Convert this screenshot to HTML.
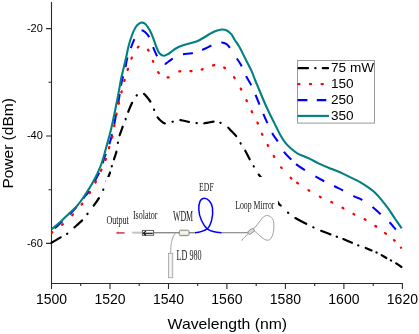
<!DOCTYPE html>
<html><head><meta charset="utf-8"><style>
html,body{margin:0;padding:0;background:#fff;}
svg{display:block;will-change:transform;}
text{font-family:"Liberation Sans", sans-serif;fill:#000;}
.serif text, text.serif{font-family:"Liberation Serif", serif;fill:#202020;}
</style></head><body>
<svg width="419" height="334" viewBox="0 0 419 334">
<path d="M51.5,2 V283.5 H402.9" fill="none" stroke="#2a2a2a" stroke-width="1.1"/>
<path d="M46,28.6 H51.5 M46,136.0 H51.5 M46,243.4 H51.5 M48.5,82.3 H51.5 M48.5,189.7 H51.5 M51.5,283.5 V289 M110.0,283.5 V289 M168.5,283.5 V289 M226.9,283.5 V289 M285.4,283.5 V289 M343.9,283.5 V289 M402.4,283.5 V289 M80.7,283.5 V286 M139.2,283.5 V286 M197.7,283.5 V286 M256.2,283.5 V286 M314.7,283.5 V286 M373.2,283.5 V286" stroke="#2a2a2a" stroke-width="1.1"/>
<text x="42.8" y="31.9" text-anchor="end" font-size="11">-20</text>
<text x="42.8" y="139.3" text-anchor="end" font-size="11">-40</text>
<text x="42.8" y="246.7" text-anchor="end" font-size="11">-60</text>
<text x="51.5" y="304" text-anchor="middle" font-size="14">1500</text>
<text x="110.0" y="304" text-anchor="middle" font-size="14">1520</text>
<text x="168.5" y="304" text-anchor="middle" font-size="14">1540</text>
<text x="226.9" y="304" text-anchor="middle" font-size="14">1560</text>
<text x="285.4" y="304" text-anchor="middle" font-size="14">1580</text>
<text x="343.9" y="304" text-anchor="middle" font-size="14">1600</text>
<text x="402.4" y="304" text-anchor="middle" font-size="14">1620</text>
<text x="167.6" y="328.5" font-size="15" textLength="119.5" lengthAdjust="spacingAndGlyphs">Wavelength (nm)</text>
<text transform="translate(12.7,143.4) rotate(-90)" text-anchor="middle" font-size="15.5">Power (dBm)</text>
<path id="ck" d="M51.6,242.7 C53.2,241.7 58.9,238.4 61.5,236.9 C64.1,235.4 65.2,235.2 67.3,233.7 C69.3,232.2 71.2,230.2 73.8,227.9 C76.4,225.6 80.6,222.0 82.9,219.7 C85.2,217.4 85.8,216.1 87.5,213.9 C89.2,211.7 91.1,209.2 93.1,206.5 C95.1,203.8 97.6,200.3 99.3,197.5 C101.0,194.7 101.4,193.9 103.2,189.7 C105.0,185.5 108.6,176.4 110.0,172.5 C111.4,168.6 111.2,168.2 111.8,166.2 C112.4,164.1 112.9,162.8 113.7,160.2 C114.5,157.6 116.0,153.6 116.7,150.7 C117.4,147.8 117.5,145.2 117.9,142.8 C118.4,140.4 118.6,139.0 119.4,136.2 C120.2,133.4 122.0,128.7 123.0,125.8 C124.0,122.9 124.9,121.2 125.7,119.0 C126.5,116.8 126.7,115.6 127.8,112.8 C128.9,110.0 131.0,104.9 132.5,102.0 C134.0,99.1 135.3,97.0 136.6,95.5 C137.9,94.0 139.4,93.5 140.5,93.2 C141.6,92.9 142.2,92.9 143.2,93.4 C144.2,94.0 145.2,95.0 146.5,96.5 C147.8,98.0 149.7,100.3 150.9,102.5 C152.2,104.7 153.0,107.2 154.0,109.5 C155.0,111.8 155.8,114.4 156.9,116.2 C158.0,118.0 159.0,119.3 160.5,120.5 C162.0,121.7 163.7,123.4 165.7,123.6 C167.7,123.8 170.2,122.4 172.4,121.8 C174.6,121.2 176.2,120.0 179.1,120.0 C182.0,120.0 186.7,121.5 189.6,122.0 C192.5,122.5 194.1,122.8 196.3,123.0 C198.5,123.2 201.0,123.5 202.9,123.4 C204.8,123.3 206.1,122.9 208.0,122.6 C209.9,122.3 212.4,121.6 214.4,121.6 C216.4,121.6 218.1,121.8 220.2,122.7 C222.3,123.6 225.2,125.3 227.2,126.8 C229.1,128.3 230.3,129.9 231.9,131.5 C233.5,133.1 235.2,134.7 236.6,136.6 C238.0,138.5 239.1,140.8 240.4,143.0 C241.7,145.2 243.0,146.8 244.6,149.6 C246.2,152.4 248.5,157.1 250.0,159.8 C251.5,162.6 252.3,163.8 253.6,166.1 C254.9,168.3 256.6,171.4 257.8,173.3 C259.0,175.2 259.0,174.7 261.0,177.5 C263.0,180.3 267.1,185.7 270.0,190.0 C272.9,194.3 276.5,200.4 278.4,203.1 C280.3,205.8 279.9,204.6 281.5,206.2 C283.1,207.8 285.7,210.7 287.8,212.5 C289.9,214.3 291.0,215.4 294.1,217.3 C297.2,219.2 303.6,222.3 306.7,224.0 C309.8,225.7 310.8,226.1 313.0,227.2 C315.2,228.2 317.1,229.1 319.9,230.3 C322.7,231.5 327.3,233.1 330.0,234.2 C332.7,235.2 334.3,235.9 336.3,236.6 C338.3,237.3 339.5,237.5 342.2,238.6 C344.9,239.7 349.8,241.8 352.4,242.9 C355.0,244.0 355.6,244.4 357.7,245.2 C359.8,246.0 362.3,246.6 364.9,247.6 C367.4,248.6 370.5,249.9 373.0,251.0 C375.5,252.1 377.7,252.9 380.1,254.2 C382.5,255.5 385.5,257.6 387.3,258.6 C389.1,259.6 389.6,259.7 390.9,260.4 C392.2,261.1 393.5,261.7 395.3,262.8 C397.1,263.9 400.6,266.4 401.6,267.1" fill="none" stroke="#000" stroke-width="2.2" stroke-linecap="round" stroke-dasharray="0.00 1.10 9.30 7.45 0.30 9.65 10.10 8.45 0.30 10.15 9.10 9.45 0.30 8.95 9.30 6.45 0.30 7.15 7.80 8.95 0.30 7.75 8.80 8.15 0.30 7.75 9.50 8.75 0.30 8.15 9.80 8.75 0.30 8.15 9.60 7.95 0.30 7.95 8.50 7.75 0.30 7.45 9.50 6.95 0.30 8.95 11.60 8.35 0.30 8.75 9.30 8.15 0.30 9.25 9.10 7.95 0.30 9.95 11.20 9.95 0.30 8.95 12.10 7.95 0.30 8.45 9.80 6.65 0.30 6.95 9.10 6.95 0.30 7.65 6.30 5.25 0.30 5.65 5.30 5.25 0.30 5.95 6.10 52.60"/>
<path id="cb" d="M52.5,230.5 C53.8,229.3 57.4,225.9 60.0,223.5 C62.6,221.1 65.3,218.7 68.0,216.0 C70.7,213.3 73.3,210.6 76.0,207.5 C78.7,204.4 81.8,200.3 84.0,197.5 C86.2,194.7 86.8,194.8 89.5,190.4 C92.2,186.0 97.5,176.5 100.0,171.0 C102.5,165.5 102.5,163.3 104.5,157.5 C106.5,151.7 109.5,144.8 111.7,135.9 C114.0,127.0 116.4,112.5 118.0,104.0 C119.6,95.5 120.4,89.1 121.2,84.6 C122.0,80.1 122.2,80.2 122.9,77.2 C123.6,74.2 124.9,69.7 125.6,66.5 C126.3,63.3 126.4,61.3 127.3,58.2 C128.2,55.1 129.6,51.3 130.8,48.1 C132.0,44.9 133.3,41.7 134.4,39.2 C135.5,36.7 136.4,34.5 137.5,33.0 C138.6,31.5 139.8,30.5 141.0,30.3 C142.2,30.1 143.7,30.9 145.0,32.0 C146.3,33.1 147.7,34.5 149.1,37.1 C150.5,39.7 152.0,44.5 153.3,47.6 C154.6,50.8 155.8,53.7 157.0,56.0 C158.2,58.3 159.2,60.2 160.5,61.5 C161.8,62.8 163.2,63.9 164.5,64.0 C165.8,64.1 166.6,62.9 168.0,62.0 C169.4,61.1 171.0,59.7 172.7,58.7 C174.4,57.7 176.2,56.8 178.0,56.0 C179.8,55.2 180.8,54.7 183.2,54.2 C185.6,53.7 189.0,53.9 192.2,53.2 C195.4,52.5 199.4,51.0 202.5,49.8 C205.6,48.6 208.7,46.8 210.9,45.8 C213.2,44.8 214.4,44.5 216.0,44.0 C217.6,43.5 219.1,42.9 220.4,42.7 C221.7,42.5 222.7,42.5 224.0,43.0 C225.3,43.5 226.3,43.3 228.4,45.9 C230.5,48.5 234.7,55.4 236.8,58.5 C238.9,61.6 239.3,61.8 240.9,64.8 C242.5,67.8 244.6,73.2 246.2,76.3 C247.8,79.4 248.8,80.5 250.4,83.6 C252.0,86.7 253.5,90.0 255.6,95.0 C257.7,100.0 260.5,107.3 263.2,113.6 C265.9,119.9 269.6,128.1 272.0,132.7 C274.4,137.3 275.5,137.9 277.5,141.1 C279.5,144.3 281.8,148.9 284.0,151.9 C286.2,154.9 288.1,156.5 290.7,159.0 C293.3,161.5 294.8,163.5 299.5,166.7 C304.2,169.9 312.4,174.8 318.9,178.4 C325.4,182.0 332.6,185.2 338.4,188.1 C344.2,191.0 349.7,194.1 353.6,196.1 C357.5,198.1 359.0,198.1 362.0,199.8 C365.0,201.5 368.4,203.8 371.4,206.1 C374.4,208.4 376.8,210.8 379.8,213.5 C382.8,216.2 386.7,219.4 389.3,222.0 C391.9,224.6 393.6,227.0 395.6,229.2 C397.6,231.4 400.5,234.0 401.5,235.0" fill="none" stroke="#0000ff" stroke-width="2.05" stroke-dasharray="0.00 3.38 10.20 10.20 10.20 10.20 10.20 10.20 10.20 10.20 10.20 10.20 10.20 10.20 10.20 10.20 10.20 8.40 10.00 9.10 10.00 9.90 9.60 12.00 10.60 10.60 10.00 11.20 9.80 11.10 10.00 9.70 10.20 10.40 10.60 12.60 9.60 10.40 10.60 10.40 10.60 10.00 10.20 10.80 10.20 12.00 10.80 6.60 10.80 12.00 10.20 10.80 10.00 11.70 10.00 12.30 11.00 11.80 9.80 58.20"/>
<path id="cr" d="M52.0,232.5 C53.7,231.2 58.8,227.6 62.3,224.6 C65.8,221.6 69.4,218.1 72.7,214.7 C76.0,211.3 79.3,207.6 82.1,204.0 C84.9,200.4 87.2,196.8 89.5,193.1 C91.8,189.4 93.8,185.6 95.8,181.8 C97.8,178.0 99.5,173.9 101.2,170.2 C102.9,166.4 104.4,163.0 105.7,159.3 C107.0,155.6 107.9,151.8 109.0,148.1 C110.1,144.3 111.3,140.6 112.2,136.8 C113.1,133.0 113.7,128.9 114.4,125.1 C115.1,121.3 115.8,117.7 116.5,114.0 C117.2,110.3 118.1,106.4 118.9,102.7 C119.7,99.0 120.6,95.7 121.5,92.0 C122.4,88.3 123.5,84.3 124.5,80.5 C125.5,76.7 126.6,73.1 127.8,69.4 C129.0,65.7 130.5,61.1 131.6,58.2 C132.7,55.3 133.4,53.9 134.5,52.0 C135.6,50.1 136.8,48.2 138.1,47.1 C139.3,46.0 140.8,45.3 142.0,45.2 C143.2,45.1 143.9,45.7 145.0,46.5 C146.1,47.3 147.0,47.8 148.3,50.2 C149.6,52.7 151.3,57.5 153.0,61.2 C154.7,64.9 156.5,69.7 158.2,72.2 C159.9,74.8 161.3,75.6 163.0,76.5 C164.7,77.4 166.5,77.7 168.2,77.4 C169.9,77.2 171.1,76.0 173.0,75.0 C174.9,74.0 176.5,72.1 179.4,71.4 C182.3,70.8 187.0,71.4 190.7,71.1 C194.3,70.8 197.6,70.6 201.3,69.6 C205.1,68.6 210.2,66.1 213.2,65.3 C216.1,64.5 217.1,64.6 219.0,65.0 C220.9,65.4 222.1,65.8 224.6,67.9 C227.1,70.0 231.5,73.9 234.2,77.4 C236.9,80.9 238.0,83.3 240.9,88.9 C243.8,94.5 248.9,105.6 251.6,111.1 C254.3,116.6 255.5,118.2 257.2,122.0 C258.9,125.8 260.2,130.0 262.0,133.9 C263.8,137.8 265.9,141.7 267.9,145.4 C269.9,149.1 271.7,152.5 273.9,156.2 C276.1,159.9 278.2,163.7 281.1,167.4 C284.0,171.1 288.4,175.6 291.1,178.2 C293.8,180.8 294.5,181.0 297.4,183.0 C300.3,185.0 304.6,187.8 308.4,190.1 C312.1,192.4 316.1,194.8 319.9,196.8 C323.7,198.8 327.4,200.2 331.2,202.0 C335.0,203.8 338.8,205.8 342.5,207.8 C346.2,209.8 349.9,212.2 353.6,214.1 C357.3,216.0 361.1,217.3 364.7,219.3 C368.3,221.3 372.0,223.7 375.4,226.0 C378.8,228.3 382.0,230.7 385.1,233.1 C388.2,235.5 391.5,237.8 394.1,240.2 C396.8,242.6 399.9,246.4 401.0,247.7" fill="none" stroke="#ff0000" stroke-width="2.3" stroke-linecap="round" stroke-dasharray="0.50 12.20 1.00 13.00 1.00 13.20 1.00 12.80 1.00 11.20 1.00 12.00 1.00 10.80 1.00 11.20 1.00 10.20 1.00 10.40 1.00 10.80 1.00 10.20 1.00 10.60 1.00 10.80 1.00 10.60 1.00 10.80 1.00 12.00 1.00 11.80 1.00 11.00 1.00 11.40 1.00 10.40 1.00 12.20 1.00 10.20 1.00 10.40 1.00 11.00 1.00 11.00 1.00 12.60 1.00 12.40 1.00 11.80 1.00 11.20 1.00 11.80 1.00 11.20 1.00 11.40 1.00 11.60 1.00 12.60 1.00 13.00 1.00 7.40 1.00 12.40 1.00 12.20 1.00 11.60 1.00 11.60 1.00 11.60 1.00 11.40 1.00 11.60 1.00 11.00 1.00 10.40 1.00 9.20 1.00 50.00"/>
<path id="ct" d="M51.6,229.3 C53.0,228.1 57.1,224.8 59.9,222.3 C62.6,219.8 65.4,217.1 68.1,214.5 C70.8,211.9 73.7,209.6 76.3,206.7 C78.9,203.8 80.9,201.2 83.7,197.0 C86.5,192.8 90.4,186.8 93.3,181.5 C96.2,176.2 98.8,170.8 101.0,165.0 C103.2,159.2 104.6,153.0 106.4,146.7 C108.2,140.3 109.8,134.7 111.6,126.9 C113.4,119.1 115.7,107.9 117.2,100.0 C118.8,92.1 119.8,85.3 120.9,79.7 C122.0,74.1 123.2,70.1 124.0,66.5 C124.8,62.9 125.2,61.5 126.0,58.1 C126.8,54.7 127.6,49.9 128.6,46.0 C129.6,42.1 131.0,37.7 132.2,34.5 C133.4,31.3 134.6,28.9 135.8,27.0 C137.0,25.1 138.3,24.1 139.4,23.4 C140.5,22.7 141.3,22.4 142.4,22.6 C143.5,22.8 144.8,23.3 146.0,24.6 C147.2,25.9 148.6,28.1 149.8,30.3 C151.0,32.5 152.1,35.2 153.1,37.8 C154.1,40.4 155.0,43.5 156.0,46.0 C157.0,48.5 157.9,51.4 159.2,53.0 C160.5,54.6 162.1,55.6 163.7,55.7 C165.3,55.8 167.1,54.6 169.0,53.5 C170.9,52.4 173.0,50.2 175.0,49.0 C177.0,47.8 178.7,46.9 180.9,46.0 C183.1,45.1 185.6,44.5 188.4,43.7 C191.2,42.9 194.5,42.4 197.7,41.0 C200.8,39.6 204.5,37.1 207.3,35.5 C210.1,33.9 212.0,32.5 214.4,31.5 C216.8,30.5 219.6,29.7 221.6,29.5 C223.6,29.3 224.7,29.4 226.3,30.2 C228.0,31.0 230.1,32.8 231.5,34.4 C232.9,36.0 233.5,37.9 234.8,40.0 C236.2,42.1 238.2,44.8 239.6,47.2 C241.0,49.6 241.9,51.8 243.2,54.4 C244.5,57.0 246.0,60.0 247.4,62.8 C248.8,65.6 250.3,68.2 251.6,71.1 C252.9,74.0 253.8,76.8 255.1,80.0 C256.4,83.2 258.0,86.8 259.5,90.5 C261.0,94.2 262.8,98.5 264.3,102.0 C265.8,105.5 267.2,108.5 268.6,111.5 C270.0,114.5 271.5,117.4 272.8,120.0 C274.1,122.6 275.1,124.6 276.4,127.2 C277.7,129.8 279.1,133.0 280.6,135.6 C282.1,138.2 283.6,140.6 285.4,142.8 C287.2,145.0 289.3,146.9 291.3,148.7 C293.3,150.4 295.2,152.0 297.3,153.3 C299.4,154.6 302.0,155.4 304.0,156.3 C306.0,157.2 307.0,157.4 309.5,158.6 C312.0,159.8 315.9,162.1 319.1,163.6 C322.3,165.1 325.1,166.4 328.6,167.8 C332.1,169.2 336.4,170.7 340.0,172.3 C343.6,173.9 347.0,175.7 350.5,177.4 C354.0,179.1 357.8,180.8 360.9,182.6 C364.0,184.4 366.9,186.4 369.3,188.2 C371.8,190.0 373.5,191.2 375.6,193.2 C377.7,195.2 379.6,197.5 381.7,200.1 C383.8,202.7 386.2,205.8 388.5,208.9 C390.8,212.1 393.0,215.8 395.2,219.0 C397.4,222.2 400.6,226.8 401.7,228.4" fill="none" stroke="#008080" stroke-width="2.1"/>
<rect x="297.5" y="60.5" width="77" height="62.6" fill="#fff" stroke="#999" stroke-width="1"/>
<path d="M298.6,68.2 H308 M315.3,68.2 H315.5 M322.8,68.2 H328" stroke="#000" stroke-width="2.2" stroke-linecap="round"/>
<path d="M298.2,84.1 H330" stroke="#f00" stroke-width="2.3" stroke-dasharray="1.2 10.5" stroke-linecap="round"/>
<path d="M297.5,100.1 H307.4 M316.8,100.1 H326.3" stroke="#00f" stroke-width="2.2"/>
<path d="M297.5,115.9 H329" stroke="#008080" stroke-width="2.1"/>
<text x="331" y="72" font-size="13.6">75 mW</text>
<text x="331" y="88" font-size="13.6">150</text>
<text x="331" y="104" font-size="13.6">250</text>
<text x="331" y="119.8" font-size="13.6">350</text>
<rect x="106" y="177" width="172" height="103" fill="#fff"/>
<g class="serif">
<text x="106.4" y="224.3" font-size="12.6" textLength="22.3" lengthAdjust="spacingAndGlyphs">Output</text>
<text x="132.9" y="219" font-size="13.2" textLength="24.6" lengthAdjust="spacingAndGlyphs">Isolator</text>
<text x="176.6" y="259.6" font-size="13.8" textLength="25" lengthAdjust="spacingAndGlyphs">LD 980</text>
<text x="199.1" y="191.4" font-size="12.4" textLength="14.6" lengthAdjust="spacingAndGlyphs">EDF</text>
<text x="235.2" y="208.5" font-size="12.6" textLength="39.2" lengthAdjust="spacingAndGlyphs">Loop Mirror</text>
<text x="172.9" y="220.7" font-size="13.6" textLength="20.3" lengthAdjust="spacingAndGlyphs">WDM</text>
</g>
<path d="M117.5,232.9 H124.6" stroke="#d85050" stroke-width="1.7"/><path d="M115.7,232.9 l2.6,-1.7 v3.4z" fill="#d85050"/>
<path d="M132.2,232.7 H142.3" stroke="#c4c4c4" stroke-width="2"/>
<path d="M153.8,232.7 H179.4" stroke="#8a8a8a" stroke-width="1.4"/>
<path d="M189,232.7 H195.5" stroke="#8a8a8a" stroke-width="1.4"/>
<path d="M221.3,232.7 H248" stroke="#8a8a8a" stroke-width="1.2"/>
<rect x="142.4" y="230.4" width="11.2" height="5" fill="#fff" stroke="#555" stroke-width="0.9"/>
<path d="M143.6,233.3 H152.8" stroke="#1a1a1a" stroke-width="1.2"/>
<path d="M145.9,231.1 L143.4,233.3 L145.9,235.3" fill="none" stroke="#111" stroke-width="1.2"/>
<path d="M146.2,234.9 H152.8" stroke="#aaa" stroke-width="0.7"/>
<defs><linearGradient id="wg" x1="0" y1="0" x2="0" y2="1"><stop offset="0" stop-color="#e8e4cc"/><stop offset="0.5" stop-color="#fbfaf0"/><stop offset="1" stop-color="#dcd8c0"/></linearGradient><linearGradient id="lg" x1="0" y1="0" x2="1" y2="0"><stop offset="0" stop-color="#e4e4e4"/><stop offset="0.5" stop-color="#f6f6f6"/><stop offset="1" stop-color="#dcdcdc"/></linearGradient></defs>
<rect x="179.4" y="230.2" width="9.6" height="5.5" rx="1.3" fill="url(#wg)" stroke="#7a7a7a" stroke-width="0.9"/>
<path d="M175.6,233.2 C172.5,236 170.6,242 170.6,253.4" fill="none" stroke="#b0b0b0" stroke-width="1.1"/>
<rect x="168.5" y="253.3" width="4.3" height="24.5" fill="url(#lg)" stroke="#999" stroke-width="0.7"/>
<path d="M195,232.7 C200,232.2 204,231 207.2,228.9 C211,225.5 213.5,216 212.5,208 C211.5,201.5 207.5,198.2 204.2,198.2 C200.5,198.2 198.5,203 198.8,209.5 C199,217 203,225 207.2,228.9 C210.5,231.5 215,232.5 221.5,232.7" fill="none" stroke="#0000ff" stroke-width="1.5"/>
<path d="M241.6,240.7 C244,237.5 246,235.5 248.5,233.8 M253.6,229 C256,226.5 258,223.5 260,221 C262,218 264.5,215.5 266.7,215.5 C270,215.5 273,218 273.6,222 C274.2,227 274,234 270.9,238.5 C269.5,240.3 267.5,240.5 266,240 C262,238.5 257.5,233.5 254.2,230.7" fill="none" stroke="#a0a0a0" stroke-width="1"/>
<rect x="247.6" y="229.6" width="7" height="3.6" rx="1.7" transform="rotate(-35 251.1 231.4)" fill="#d8d8d8" stroke="#808080" stroke-width="0.8"/>
</svg>
</body></html>
